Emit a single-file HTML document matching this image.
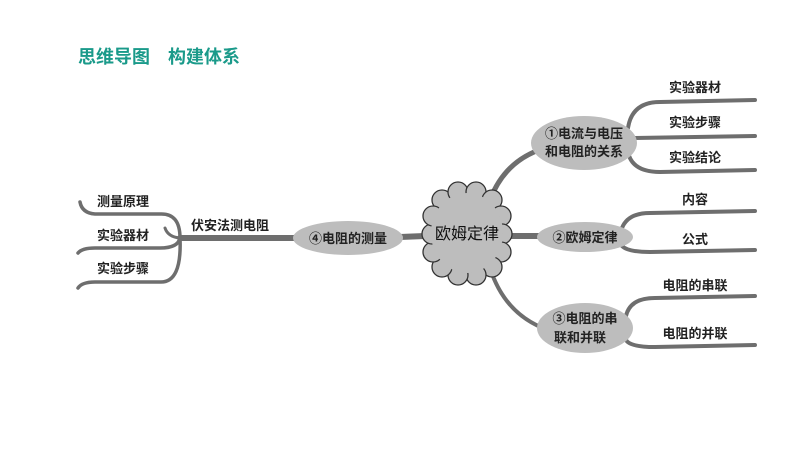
<!DOCTYPE html>
<html><head><meta charset="utf-8"><style>
body{margin:0;background:#fff;}
svg{display:block;}
text{font-family:"Liberation Sans","Noto Sans CJK SC",sans-serif;font-weight:bold;fill:#222;}
</style></head><body>
<svg width="800" height="450" viewBox="0 0 800 450">
<text x="78" y="63" font-size="18" style="fill:#1a9a8a">思维导图　构建体系</text>
<g fill="none" stroke="#6e6e6e" stroke-linecap="round">
<path d="M490 200 Q505 160 545 148" stroke-width="5"/>
<path d="M505 236 L545 236" stroke-width="6"/>
<path d="M490 268 Q505 315 548 330" stroke-width="4"/>
<path d="M425 236 L400 237" stroke-width="6"/>
<path d="M295 238 L180 238" stroke-width="6"/>
<path d="M628 128 Q632 102 660 102 L755 100" stroke-width="4"/>
<path d="M634 138 L755 136" stroke-width="4"/>
<path d="M628 152 Q632 172 660 172 L755 170" stroke-width="4"/>
<path d="M622 228 Q628 213 650 213 L755 211" stroke-width="4"/>
<path d="M622 246 Q628 252 650 252 L755 250" stroke-width="4"/>
<path d="M626 316 Q630 298 655 298 L755 296" stroke-width="4"/>
<path d="M626 340 Q630 347 655 347 L755 345" stroke-width="4"/>
<path d="M180 238 Q180 213 160 214 L95 214 Q82 213 80 202" stroke-width="3.5"/>
<path d="M180 238 Q178 248 160 248 L95 248 Q82 248 78 253" stroke-width="3.5"/>
<path d="M180 238 Q182 283 160 282 L95 282 Q82 282 78 288" stroke-width="3.5"/>
<path d="M180 238 Q168 237 165 228" stroke-width="3"/>
</g>
<g fill="#bdbdbd" stroke="#333" stroke-width="1.3">
<circle cx="442" cy="200" r="10"/><circle cx="458" cy="192" r="10"/><circle cx="476" cy="192" r="10"/><circle cx="492" cy="200" r="10"/>
<circle cx="501" cy="216" r="10"/><circle cx="502" cy="234" r="10"/><circle cx="501" cy="252" r="10"/><circle cx="492" cy="267" r="10"/>
<circle cx="476" cy="275" r="10"/><circle cx="458" cy="275" r="10"/><circle cx="442" cy="267" r="10"/>
<circle cx="433" cy="252" r="10"/><circle cx="432" cy="234" r="10"/><circle cx="433" cy="216" r="10"/>
</g>
<ellipse cx="467" cy="233" rx="36" ry="40" fill="#bdbdbd"/>
<text x="467" y="239" font-size="16" text-anchor="middle" style="font-weight:normal;fill:#111">欧姆定律</text>
<g fill="#bdbdbd">
<ellipse cx="584" cy="143" rx="53" ry="27"/>
<ellipse cx="585" cy="237" rx="48" ry="15"/>
<ellipse cx="585" cy="328" rx="48" ry="25"/>
<ellipse cx="348" cy="238" rx="55" ry="17"/>
</g>
<g font-size="13" text-anchor="middle">
<text x="584" y="138">①电流与电压</text>
<text x="584" y="156">和电阻的关系</text>
<text x="585" y="242">②欧姆定律</text>
<text x="585" y="323">③电阻的串</text>
<text x="580" y="342">联和并联</text>
<text x="348" y="243">④电阻的测量</text>
<text x="695" y="92">实验器材</text>
<text x="695" y="127">实验步骤</text>
<text x="695" y="162">实验结论</text>
<text x="695" y="204">内容</text>
<text x="695" y="244">公式</text>
<text x="695" y="290">电阻的串联</text>
<text x="695" y="338">电阻的并联</text>
<text x="230" y="230">伏安法测电阻</text>
<text x="123" y="206">测量原理</text>
<text x="123" y="240">实验器材</text>
<text x="123" y="273">实验步骤</text>
</g>
</svg>
</body></html>
